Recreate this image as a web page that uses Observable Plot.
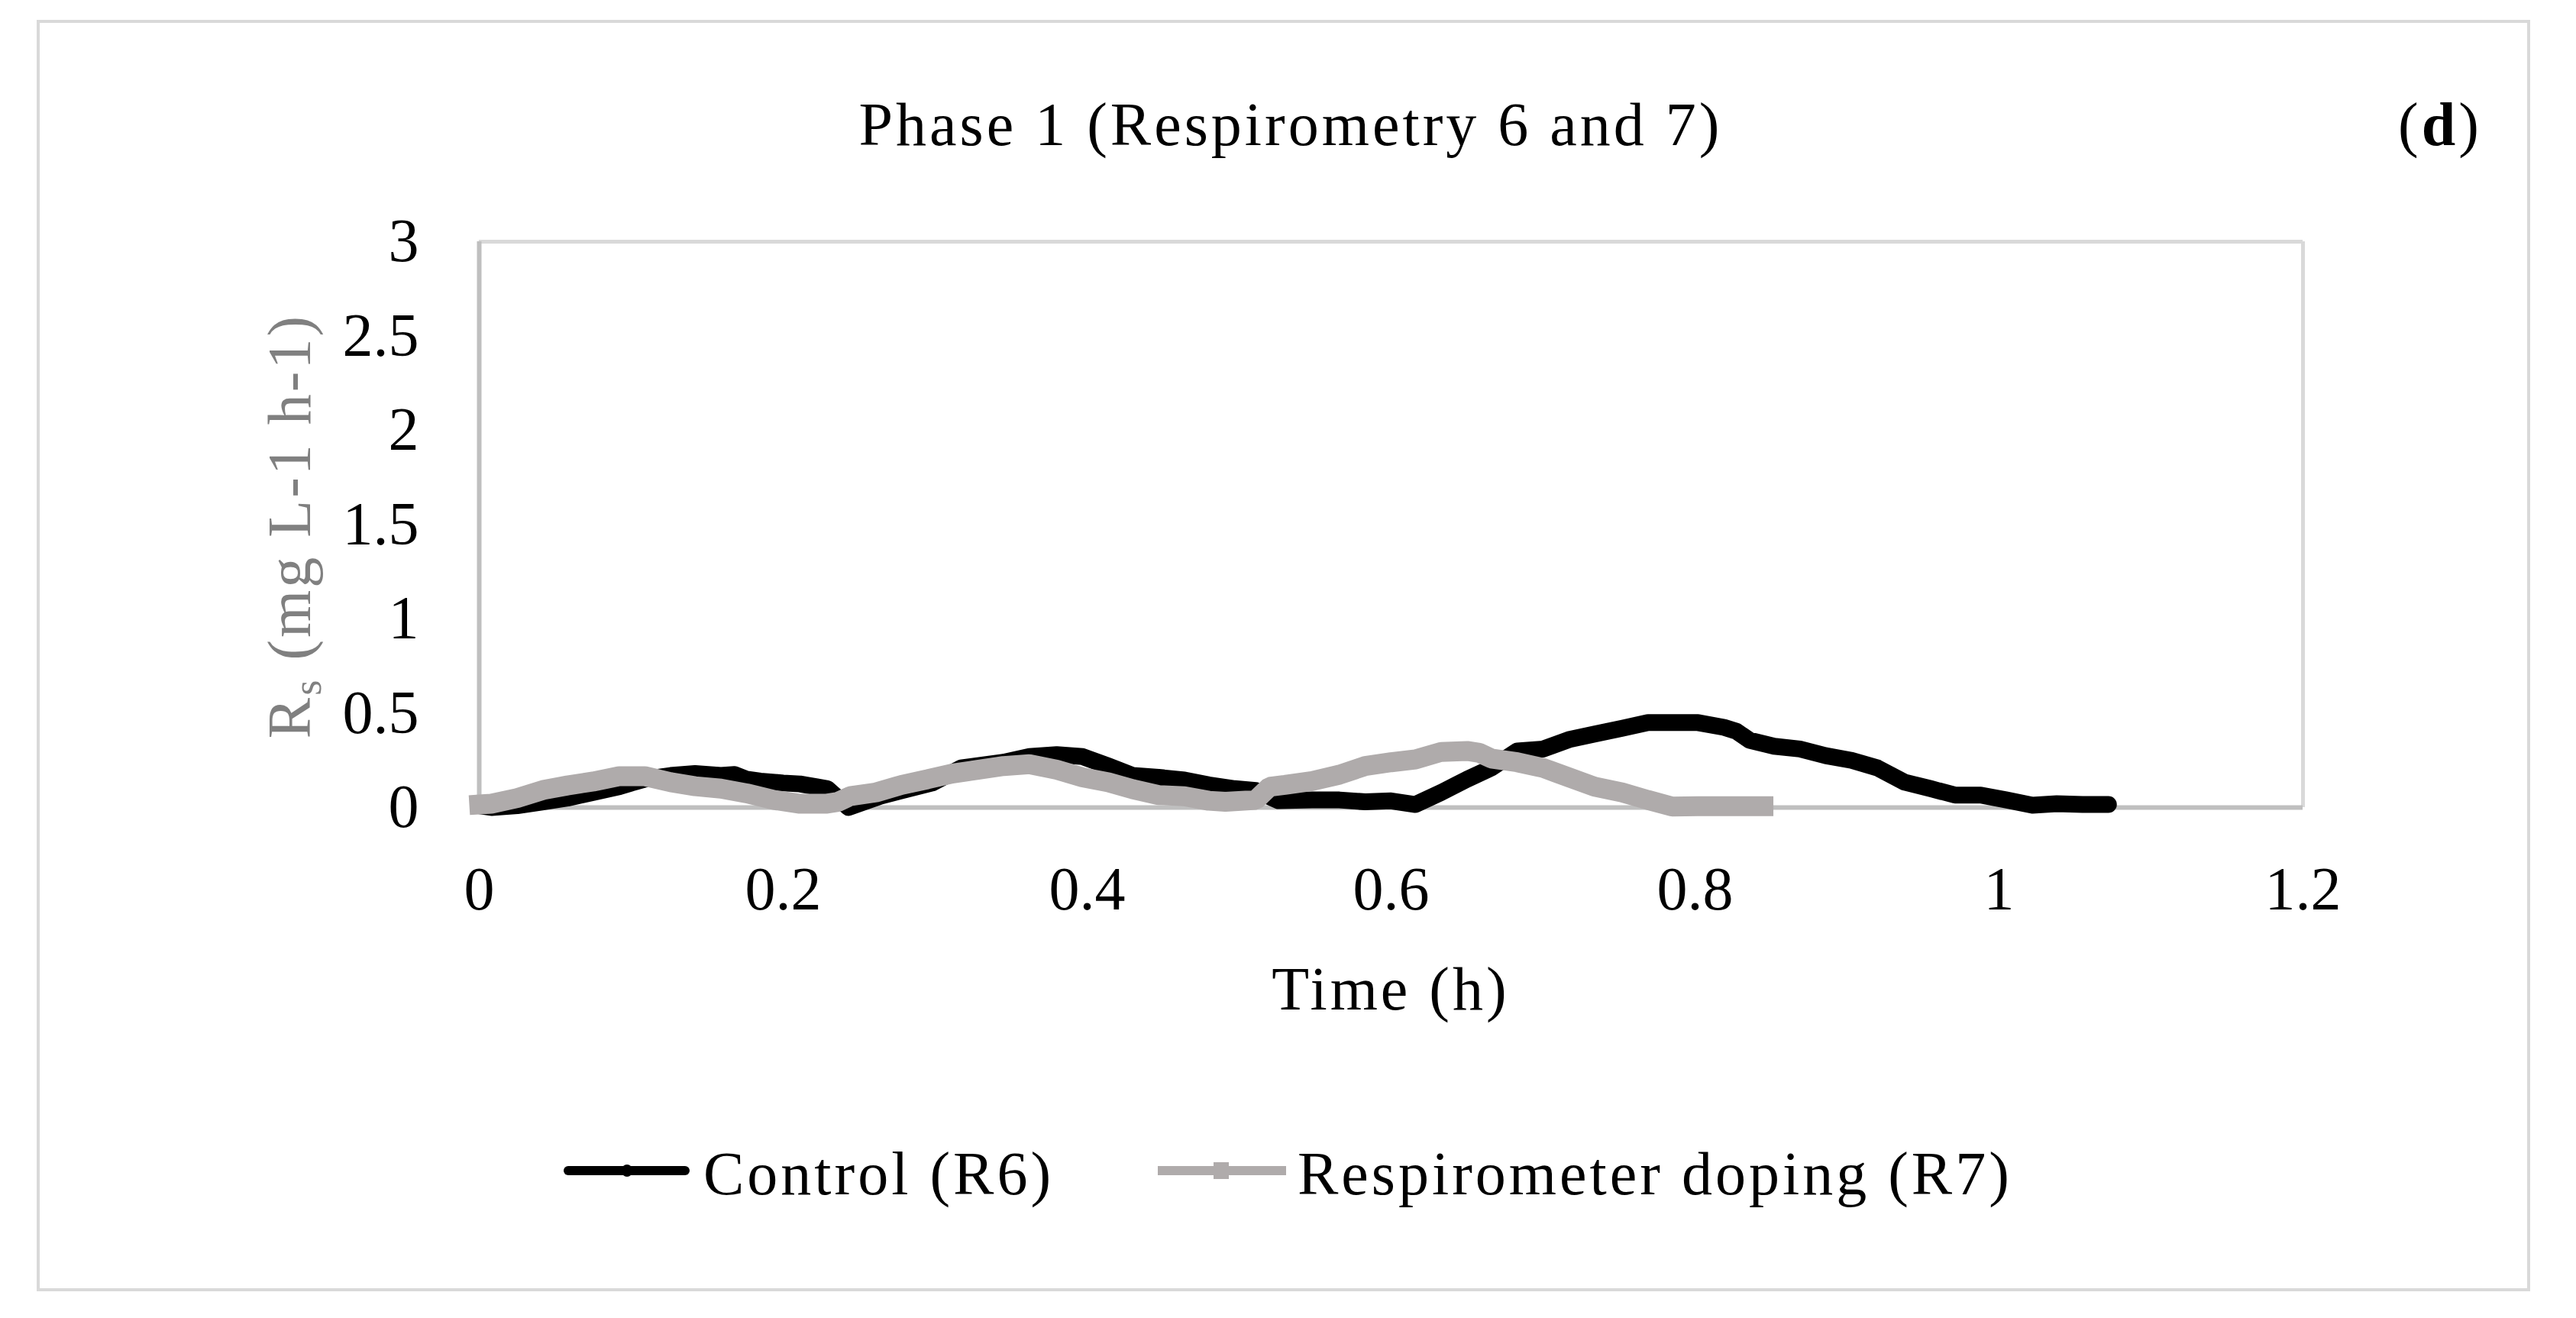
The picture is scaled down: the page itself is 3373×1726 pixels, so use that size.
<!DOCTYPE html>
<html>
<head>
<meta charset="utf-8">
<script src="https://cdn.jsdelivr.net/npm/d3@7"></script>
<script src="https://cdn.jsdelivr.net/npm/@observablehq/plot@0.6"></script>
<style>
  html, body { margin: 0; padding: 0; background: #fff; }
  #wrap { position: relative; width: 3373px; height: 1726px; background: #fff; overflow: hidden;
          font-family: "Liberation Serif", "DejaVu Serif", serif; color: #000; }
  #frame { position: absolute; left: 48px; top: 26px; width: 3265px; height: 1665px;
           border: 4px solid #D9D9D9; box-sizing: border-box; }
  .txt { position: absolute; font-size: 80px; line-height: 80px; letter-spacing: 4px; white-space: nowrap; }
  .sw { position: absolute; }
  #chart { position: absolute; left: 0; top: 0; }
</style>
</head>
<body>
<div id="wrap">
  <div id="frame"></div>
  <div id="chart"></div>
  <div class="txt" id="title" style="top:123px; left:0; width:3380px; text-align:center;">Phase 1 (Respirometry 6 and 7)</div>
  <div class="txt" id="tag" style="top:123px; left:3140px;">(<b>d</b>)</div>
  <div class="sw" style="left:738px; top:1527px; width:165px; height:12px; background:#000; border-radius:6px;"></div>
  <div class="sw" style="left:814px; top:1525px; width:14px; height:16px; background:#000; border-radius:7px;"></div>
  <div class="txt" style="top:1497px; left:921px;">Control (R6)</div>
  <div class="sw" style="left:1516px; top:1527px; width:168px; height:12px; background:#AFABAB;"></div>
  <div class="sw" style="left:1589px; top:1522px; width:20px; height:22px; background:#AFABAB;"></div>
  <div class="txt" style="top:1497px; left:1699px;">Respirometer doping (R7)</div>
</div>
<script>
// ---- data ----
const r6Time = [0.000,0.008,0.025,0.042,0.058,0.075,0.092,0.100,0.109,0.126,0.142,0.159,0.168,0.176,0.185,0.200,0.211,0.222,0.229,
  0.243,0.264,0.278,0.298,0.317,0.345,0.362,0.380,0.397,0.414,0.430,0.447,0.464,0.480,0.497,0.511,0.526,0.548,0.566,0.583,0.600,
  0.616,0.633,0.650,0.666,0.683,0.700,0.717,0.734,0.752,0.769,0.785,0.802,0.819,0.827,0.836,0.852,0.869,0.886,0.903,0.920,0.938,
  0.955,0.971,0.988,1.005,1.022,1.038,1.055,1.072];
const r6Rate = [0.01,0.00,0.01,0.03,0.05,0.08,0.11,0.13,0.15,0.17,0.18,0.17,0.175,0.15,0.14,0.13,0.125,0.11,0.10,
  0.00,0.06,0.09,0.13,0.21,0.24,0.27,0.28,0.27,0.22,0.17,0.16,0.146,0.12,0.10,0.09,0.036,0.04,0.04,0.03,0.035,
  0.016,0.08,0.15,0.21,0.30,0.31,0.36,0.39,0.42,0.45,0.45,0.45,0.425,0.405,0.356,0.325,0.31,0.275,0.25,0.21,0.134,
  0.10,0.066,0.066,0.04,0.012,0.02,0.016,0.016];
const r7Time = [0.000,0.008,0.025,0.042,0.058,0.075,0.092,0.109,0.126,0.142,0.159,0.176,0.194,0.211,0.228,0.236,0.244,0.261,0.278,
  0.295,0.311,0.328,0.345,0.362,0.380,0.397,0.414,0.430,0.447,0.464,0.480,0.491,0.511,0.520,0.530,0.548,0.566,0.583,0.600,0.616,
  0.633,0.650,0.658,0.666,0.683,0.700,0.717,0.734,0.752,0.769,0.785,0.802,0.845];
const r7Rate = [0.016,0.02,0.05,0.093,0.117,0.138,0.166,0.166,0.134,0.113,0.10,0.075,0.04,0.02,0.02,0.03,0.06,0.08,0.12,
  0.15,0.18,0.20,0.22,0.23,0.20,0.16,0.134,0.097,0.066,0.06,0.036,0.03,0.04,0.11,0.12,0.14,0.174,0.22,0.24,0.255,
  0.295,0.30,0.29,0.26,0.24,0.21,0.16,0.11,0.08,0.04,0.005,0.007,0.007];
const xTicks = [0, 0.2, 0.4, 0.6, 0.8, 1, 1.2];
const yTicks = [0, 0.5, 1, 1.5, 2, 2.5, 3];
const xTickLabels = ["0", "0.2", "0.4", "0.6", "0.8", "1", "1.2"];
const yTickLabels = ["0", "0.5", "1", "1.5", "2", "2.5", "3"];

const r6 = r6Time.map((t, i) => ({t, v: r6Rate[i]}));
const r7 = r7Time.map((t, i) => ({t, v: r7Rate[i]}));

const W = 3373, H = 1400;
const mL = 627, mR = W - 3015, mT = 316, mB = H - 1057;

const chart = Plot.plot({
  width: W, height: H,
  marginLeft: mL, marginRight: mR, marginTop: mT, marginBottom: mB,
  style: {fontFamily: "Liberation Serif, DejaVu Serif, serif", fontSize: "80px", color: "#000", background: "transparent", overflow: "visible"},
  x: {domain: [0, 1.2]},
  y: {domain: [0, 3]},
  marks: [
    Plot.ruleY([3], {stroke: "#D9D9D9", strokeWidth: 5}),
    Plot.ruleX([1.2], {stroke: "#D9D9D9", strokeWidth: 5}),
    Plot.ruleY([0], {stroke: "#BFBFBF", strokeWidth: 6}),
    Plot.ruleX([0], {stroke: "#BFBFBF", strokeWidth: 6}),
    Plot.axisX({ticks: xTicks, tickSize: 0, tickPadding: 77, label: null,
      tickFormat: d => xTickLabels[xTicks.indexOf(d)], fill: "#000"}),
    Plot.axisY({ticks: yTicks, tickSize: 0, tickPadding: 79, label: null,
      tickFormat: d => yTickLabels[yTicks.indexOf(d)], fill: "#000"}),
    Plot.line(r6, {x: "t", y: "v", stroke: "#000", strokeWidth: 22, strokeLinejoin: "round", strokeLinecap: "round"}),
    Plot.line(r7, {x: "t", y: "v", stroke: "#AFABAB", strokeWidth: 26, strokeLinejoin: "miter", strokeLinecap: "square"})
  ]
});
document.getElementById("chart").appendChild(chart);

// axis titles
const svg = d3.select(chart);
svg.append("text")
  .attr("x", (mL + 3015) / 2).attr("y", 1322)
  .attr("text-anchor", "middle")
  .attr("font-family", "Liberation Serif, DejaVu Serif, serif")
  .attr("font-size", 80).attr("letter-spacing", 4).attr("fill", "#000")
  .text("Time (h)");
const yl = svg.append("text")
  .attr("transform", "translate(406,689) rotate(-90)")
  .attr("text-anchor", "middle")
  .attr("font-family", "Liberation Serif, DejaVu Serif, serif")
  .attr("font-size", 80).attr("letter-spacing", 3).attr("fill", "#808080");
yl.append("tspan").text("R");
yl.append("tspan").attr("font-size", 52).attr("dy", 14).text("s");
yl.append("tspan").attr("dy", -14).text(" (mg L-1 h-1)");
</script>
</body>
</html>
